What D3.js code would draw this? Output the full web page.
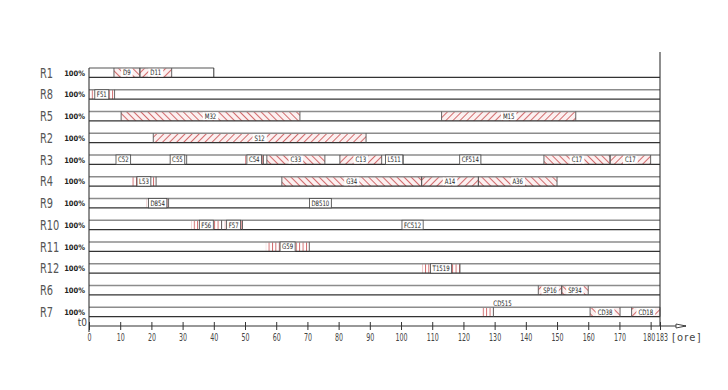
<!DOCTYPE html>
<html>
<head>
<meta charset="utf-8">
<script src="https://cdn.jsdelivr.net/npm/d3@7"></script>
<style>
body{margin:0;background:#fff}
svg{display:block}
text{font-family:"DejaVu Sans Condensed",sans-serif}
</style>
</head>
<body>
<div id="chart"></div>
<script>
const rows = ['R1', 'R8', 'R5', 'R2', 'R3', 'R4', 'R9', 'R10', 'R11', 'R12', 'R6', 'R7']
const rowEnd = [40, 183, 183, 183, 183, 183, 183, 183, 183, 183, 183, 183]
const rowLoad = ['100%', '100%', '100%', '100%', '100%', '100%', '100%', '100%', '100%', '100%', '100%', '100%']
// [row, start, end, label, hatch]   b = \\\   f = ///   v = |||
const tasks = [
    ['R1', 8, 16.3, 'D9', 'b'],
    ['R1', 16.3, 26.5, 'D11', 'f'],
    ['R8', 0, 8.2, 'F51', 'v'],
    ['R5', 10.3, 67.6, 'M32', 'b'],
    ['R5', 113, 156, 'M15', 'f'],
    ['R2', 20.6, 88.8, 'S12', 'f'],
    ['R3', 8.9, 13.1, 'C52', 'v'],
    ['R3', 25.4, 31.3, 'C55', 'v'],
    ['R3', 50, 55.9, 'C54', 'v'],
    ['R3', 57, 75.6, 'C33', 'b'],
    ['R3', 80.4, 93.8, 'C13', 'f'],
    ['R3', 94.9, 100.7, 'L511', 'v'],
    ['R3', 118.9, 125.5, 'CF514', 'v'],
    ['R3', 145.8, 167, 'C17', 'b'],
    ['R3', 167, 180, 'C17', 'f'],
    ['R4', 13.7, 21.5, 'L53', 'v'],
    ['R4', 61.8, 106.6, 'G34', 'b'],
    ['R4', 106.6, 124.8, 'A14', 'f'],
    ['R4', 124.8, 150, 'A36', 'b'],
    ['R9', 18.5, 25.5, 'D854', 'v'],
    ['R9', 70.8, 77.5, 'D8510', 'v'],
    ['R10', 32.7, 42.5, 'F56', 'v'],
    ['R10', 43.5, 49.2, 'F57', 'v'],
    ['R10', 100.8, 106.6, 'FC512', 'v'],
    ['R11', 56.7, 70.6, 'G59', 'v'],
    ['R12', 106.8, 118.9, 'T1519', 'v'],
    ['R6', 144, 151.5, 'SP16', 'f'],
    ['R6', 151.5, 160, 'SP34', 'b'],
    ['R7', 125.9, 129.6, 'CD515', 'v'],
    ['R7', 160.6, 170.2, 'CD38', 'b'],
    ['R7', 173.9, 183, 'CD18', 'f']
]
const xTicks = [0, 10, 20, 30, 40, 50, 60, 70, 80, 90, 100, 110, 120, 130, 140, 150, 160, 170, 180, 183]
const xMax = 183
const unit = '[ore]'
const origin = 't0'

const width = 728, height = 390
const axisY = 326
const red = '#c8494b', dark = '#333'
const thin = 'Roboto, "DejaVu Sans Condensed", sans-serif'

// squeeze a text horizontally round its x, the drawing font is a narrow CAD-like one
const narrow = (sel, k) => sel.each(function() {
    const ax = +(this.getAttribute('x') || 0)
    d3.select(this)
        .attr('transform', `translate(${ax},0) scale(${k},1) translate(${-ax},0)`)
})

const svg = d3.select('#chart').append('svg')
    .attr('width', width)
    .attr('height', height)

const x = d3.scaleLinear().domain([0, xMax]).range([89, 660])
const y = d3.scaleBand().domain(rows)
    .range([61.8, 322.8])
    .paddingInner(0.568)
    .paddingOuter(0.284)
const bw = y.bandwidth()

// hatch patterns
const defs = svg.append('defs')
const addPattern = (id, w, rot) => {
    const p = defs.append('pattern')
        .attr('id', id)
        .attr('patternUnits', 'userSpaceOnUse')
        .attr('width', w)
        .attr('height', w)
        .attr('patternTransform', `rotate(${rot})`)
    p.append('rect').attr('width', w).attr('height', w).attr('fill', rot ? '#fcf0f0' : '#fff')
    p.append('line')
        .attr('x1', 0.5).attr('x2', 0.5)
        .attr('y1', 0).attr('y2', w)
        .attr('stroke', red)
        .attr('stroke-width', 0.8)
}
addPattern('hatch-b', 5, -45)
addPattern('hatch-f', 5, 45)
addPattern('hatch-v', 3.4, 0)

const g = svg.append('g')

// segment fills
g.selectAll('.seg').data(tasks).enter().append('rect')
    .attr('class', 'seg')
    .attr('x', d => x(d[1]))
    .attr('y', d => y(d[0]))
    .attr('width', d => x(d[2]) - x(d[1]))
    .attr('height', bw)
    .attr('fill', d => `url(#hatch-${d[4]})`)

// row lines
rows.forEach((r, i) => {
    g.append('line')
        .attr('x1', x(0)).attr('x2', x(rowEnd[i]))
        .attr('y1', y(r)).attr('y2', y(r))
        .attr('stroke', '#8c8c8c').attr('stroke-width', 1.5)
    g.append('line')
        .attr('x1', x(0)).attr('x2', x(xMax))
        .attr('y1', y(r) + bw).attr('y2', y(r) + bw)
        .attr('stroke', dark).attr('stroke-width', 1.1)
    if(rowEnd[i] < xMax) {
        g.append('line')
            .attr('x1', x(rowEnd[i])).attr('x2', x(rowEnd[i]))
            .attr('y1', y(r)).attr('y2', y(r) + bw)
            .attr('stroke', dark).attr('stroke-width', 1)
    }
    svg.append('text')
        .attr('class', 'rowlab')
        .attr('x', 40)
        .attr('y', y(r) + bw / 2 + 5)
        .attr('font-size', 14)
        .attr('font-family', thin)
        .attr('font-weight', 300)
        .attr('fill', '#555')
        .text(r)
    svg.append('text')
        .attr('x', 85)
        .attr('y', y(r) + bw / 2 + 3)
        .attr('text-anchor', 'end')
        .attr('font-size', 7.5)
        .attr('font-weight', 'bold')
        .attr('fill', '#222')
        .text(rowLoad[i])
})
narrow(svg.selectAll('.rowlab'), 0.78)

// segment edges
tasks.forEach(d => {
    const ends = d[4] === 'v' ? [d[2]] : [d[1], d[2]]
    ends.forEach(v => {
        g.append('line')
            .attr('x1', x(v)).attr('x2', x(v))
            .attr('y1', y(d[0])).attr('y2', y(d[0]) + bw)
            .attr('stroke', '#555').attr('stroke-width', 0.9)
    })
})

// segment labels
tasks.forEach(d => {
    const x0 = x(d[1]), x1 = x(d[2]), top = y(d[0])
    const lab = g.append('g')
    const bg = lab.append('rect')
    const t = lab.append('text')
        .attr('font-size', 7.5)
        .attr('fill', '#222')
        .text(d[3])
    const tw = t.node().getComputedTextLength() * 0.8
    if(tw > (x1 - x0) * 1.4) {
        // label does not fit: write it above the bar
        bg.remove()
        t.attr('x', x1).attr('y', top - 1.5)
        narrow(t, 0.8)
        return
    }
    const cx = (x0 + x1) / 2
    t.attr('x', cx - tw / 2).attr('y', top + bw / 2 + 2.7)
    narrow(t, 0.8)
    bg.attr('x', cx - tw / 2 - 2)
        .attr('y', top + 0.8)
        .attr('width', tw + 4)
        .attr('height', bw - 1.6)
        .attr('fill', '#fff')
    if(d[4] === 'v') {
        bg.attr('y', top).attr('height', bw)
            .attr('stroke', '#444').attr('stroke-width', 0.8)
    }
})

// frame: left axis and right border
svg.append('line')
    .attr('x1', x(0)).attr('x2', x(0))
    .attr('y1', y(rows[0])).attr('y2', axisY + 6)
    .attr('stroke', dark).attr('stroke-width', 1.1)
svg.append('line')
    .attr('x1', x(xMax)).attr('x2', x(xMax))
    .attr('y1', 52).attr('y2', axisY)
    .attr('stroke', dark).attr('stroke-width', 1.1)

// x axis
const xAxis = d3.axisBottom(x).tickValues(xTicks).tickSize(4).tickFormat(d3.format('d'))
const ax = svg.append('g')
    .attr('transform', `translate(0,${axisY})`)
    .call(xAxis)
ax.select('.domain').remove()
ax.selectAll('.tick line')
    .attr('y1', -4).attr('y2', 4)
    .attr('stroke', dark)
ax.selectAll('.tick text')
    .attr('y', 7)
    .attr('font-size', 11)
    .attr('font-family', thin)
    .attr('font-weight', 300)
    .attr('fill', '#444')
ax.selectAll('.tick').filter(d => d === 180).select('text').attr('x', -2)
ax.selectAll('.tick').filter(d => d === xMax).select('text').attr('x', 1.5)
narrow(ax.selectAll('.tick text'), 0.64)

svg.append('line')
    .attr('x1', x(0)).attr('x2', 686)
    .attr('y1', axisY).attr('y2', axisY)
    .attr('stroke', dark).attr('stroke-width', 1.1)
svg.append('path')
    .attr('d', `M676,${axisY - 2}L686,${axisY}L676,${axisY + 2}Z`)
    .attr('fill', '#fff')
    .attr('stroke', dark)
    .attr('stroke-width', 0.9)

svg.append('text')
    .attr('x', 672)
    .attr('y', axisY + 15)
    .attr('font-size', 11)
    .attr('font-family', thin)
    .attr('font-weight', 300)
    .attr('letter-spacing', 1.2)
    .attr('fill', '#444')
    .text(unit)
svg.append('text')
    .attr('x', 87)
    .attr('y', axisY)
    .attr('text-anchor', 'end')
    .attr('font-size', 10)
    .attr('font-family', thin)
    .attr('font-weight', 300)
    .attr('fill', '#444')
    .text(origin)
</script>
</body>
</html>
